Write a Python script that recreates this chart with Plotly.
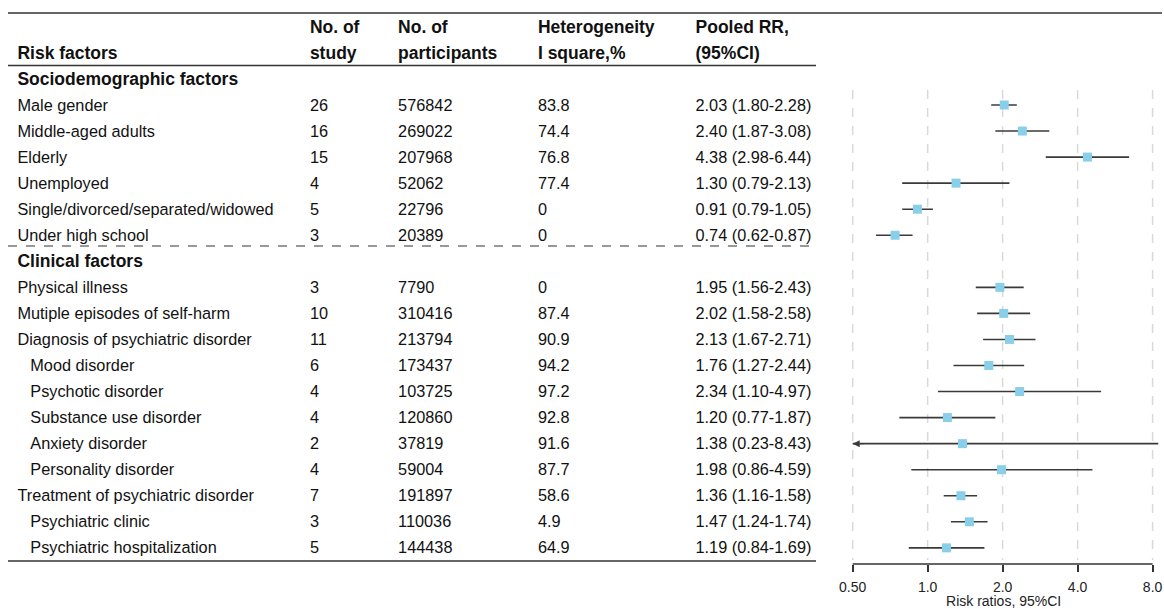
import numpy as np
import plotly.graph_objects as go

# ---------------- data ----------------
groups = ["Sociodemographic factors", "Clinical factors"]
group_of = [0, 0, 0, 0, 0, 0, 1, 1, 1, 1, 1, 1, 1, 1, 1, 1, 1]
factors = [
    "Male gender", "Middle-aged adults", "Elderly", "Unemployed",
    "Single/divorced/separated/widowed", "Under high school",
    "Physical illness", "Mutiple episodes of self-harm",
    "Diagnosis of psychiatric disorder", "Mood disorder", "Psychotic disorder",
    "Substance use disorder", "Anxiety disorder", "Personality disorder",
    "Treatment of psychiatric disorder", "Psychiatric clinic",
    "Psychiatric hospitalization",
]
indent = [0, 0, 0, 0, 0, 0, 0, 0, 0, 1, 1, 1, 1, 1, 0, 1, 1]
n_study = [26, 16, 15, 4, 5, 3, 3, 10, 11, 6, 4, 4, 2, 4, 7, 3, 5]
n_participants = [576842, 269022, 207968, 52062, 22796, 20389, 7790, 310416,
                  213794, 173437, 103725, 120860, 37819, 59004, 191897,
                  110036, 144438]
i_square = ["83.8", "74.4", "76.8", "77.4", "0", "0", "0", "87.4", "90.9",
            "94.2", "97.2", "92.8", "91.6", "87.7", "58.6", "4.9", "64.9"]
rr = [2.03, 2.40, 4.38, 1.30, 0.91, 0.74, 1.95, 2.02, 2.13, 1.76, 2.34, 1.20,
      1.38, 1.98, 1.36, 1.47, 1.19]
ci_low = [1.80, 1.87, 2.98, 0.79, 0.79, 0.62, 1.56, 1.58, 1.67, 1.27, 1.10,
          0.77, 0.23, 0.86, 1.16, 1.24, 0.84]
ci_high = [2.28, 3.08, 6.44, 2.13, 1.05, 0.87, 2.43, 2.58, 2.71, 2.44, 4.97,
           1.87, 8.43, 4.59, 1.58, 1.74, 1.69]
header_line1 = ["", "No. of", "No. of", "Heterogeneity", "Pooled RR,"]
header_line2 = ["Risk factors", "study", "participants", "I square,%", "(95%CI)"]
tick_vals = [0.5, 1, 2, 4, 8]
tick_text = ["0.50", "1.0", "2.0", "4.0", "8.0"]

# ---------------- layout constants ----------------
W, H = 1164, 609
FONT = "Liberation Sans, Arial, Helvetica, sans-serif"
BODY = 16.3
BOLD = 17.5
text_pad = 4.5                     # plotly's built-in offset for 'right' text
col_x = [14, 309, 398, 539, 698]   # table column left edges (px)
indent_px = 13
table_w = 838.0

# row positions
group_rows, item_rows = [], []
r, prev = 0, None
for g in group_of:
    if g != prev:
        group_rows.append(r)
        r += 1
        prev = g
    item_rows.append(r)
    r += 1

row0_px, row_step = 105.0, 26.05   # pixel of row 1, row spacing
plot_bottom_px = 564.0
text_dy = 1.5 / row_step            # small downward nudge for text baseline


def row_of(px):
    return 1 + (px - row0_px) / row_step


y_range = [row_of(plot_bottom_px), row_of(0)]

# forest axis geometry
px_lo, px_hi = 852.0, 1154.5
k = (px_hi - px_lo) / (np.log10(8) - np.log10(0.5))
x2_range = [np.log10(0.5) - 6 / k, np.log10(0.5) + (1162.5 - px_lo) / k]
x2_domain = [(px_lo - 6) / W, 1162.5 / W]

fig = go.Figure()

# ---------------- table text ----------------
txt = dict(mode="text", textposition="middle right", hoverinfo="skip",
           showlegend=False, xaxis="x", yaxis="y", cliponaxis=False,
           marker=dict(size=0))


def ys(rows):
    return [v + text_dy for v in rows]


def xs(px_list):
    return [p - text_pad for p in px_list]


# header (bold)
for line, yy in ((header_line1, -2), (header_line2, -1)):
    fig.add_trace(go.Scatter(
        x=xs(col_x), y=ys([yy] * len(col_x)),
        text=["<b>%s</b>" % t if t else "" for t in line],
        textfont=dict(family=FONT, size=BOLD, color="#111"), **txt))

# group titles
fig.add_trace(go.Scatter(
    x=xs([col_x[0]] * len(groups)), y=ys(group_rows),
    text=["<b>%s</b>" % g for g in groups],
    textfont=dict(family=FONT, size=BOLD, color="#111"), **txt))

# item labels
fig.add_trace(go.Scatter(
    x=xs([col_x[0] + indent_px * d for d in indent]), y=ys(item_rows),
    text=factors, textfont=dict(family=FONT, size=BODY, color="#111"), **txt))

pooled = ["%.2f (%.2f-%.2f)" % (a, b, c) for a, b, c in zip(rr, ci_low, ci_high)]
for cx, col in zip(col_x[1:], [[str(v) for v in n_study],
                               [str(v) for v in n_participants],
                               i_square, pooled]):
    fig.add_trace(go.Scatter(
        x=xs([cx] * len(col)), y=ys(item_rows), text=col,
        textfont=dict(family=FONT, size=BODY, color="#111"), **txt))

# ---------------- forest plot ----------------
xmin_shown = 0.5
seg_x, seg_y = [], []
for lo_, hi_, yy in zip(ci_low, ci_high, item_rows):
    seg_x += [max(lo_, xmin_shown), hi_, None]
    seg_y += [yy, yy, None]
fig.add_trace(go.Scatter(
    x=seg_x, y=seg_y, mode="lines", xaxis="x2", yaxis="y",
    line=dict(color="#3a3a3a", width=1.6), hoverinfo="skip", showlegend=False))
fig.add_trace(go.Scatter(
    x=rr, y=item_rows, mode="markers", xaxis="x2", yaxis="y",
    marker=dict(symbol="square", size=9, color="#89CFEA",
                line=dict(width=0)),
    showlegend=False, cliponaxis=False))

shapes = []
# dashed vertical reference lines (shape coords on log axes = data values)
for tv in tick_vals:
    shapes.append(dict(type="line", xref="x2", yref="y",
                       x0=tv, x1=tv, y0=row_of(90), y1=row_of(560),
                       line=dict(color="#d9d9d9", width=1.5, dash="dash"),
                       layer="below"))
# x axis line
shapes.append(dict(type="line", xref="x2", yref="paper",
                   x0=tick_vals[0], x1=tick_vals[-1],
                   y0=0, y1=0, line=dict(color="#333", width=1.5)))
# table rules
tbl_right = 815 / W
shapes.append(dict(type="line", xref="paper", yref="y", x0=0, x1=1,
                   y0=row_of(13), y1=row_of(13),
                   line=dict(color="#333", width=1.5)))
shapes.append(dict(type="line", xref="paper", yref="y", x0=0, x1=tbl_right,
                   y0=row_of(65.5), y1=row_of(65.5),
                   line=dict(color="#333", width=1.5)))
shapes.append(dict(type="line", xref="paper", yref="y", x0=0, x1=tbl_right,
                   y0=row_of(246), y1=row_of(246),
                   line=dict(color="#333", width=1.2, dash="dash")))
shapes.append(dict(type="line", xref="paper", yref="y", x0=0, x1=tbl_right,
                   y0=row_of(561), y1=row_of(561),
                   line=dict(color="#333", width=1.5)))

# arrow for truncated CI (annotation coords on log axes = log10 values)
annotations = []
for lo_, yy in zip(ci_low, item_rows):
    if lo_ < xmin_shown:
        annotations.append(dict(
            x=np.log10(xmin_shown), y=yy, xref="x2", yref="y",
            ax=np.log10(xmin_shown) + 0.05, ay=yy, axref="x2", ayref="y",
            text="", showarrow=True, arrowhead=2, arrowsize=1.0,
            arrowwidth=1.4, arrowcolor="#3a3a3a"))

fig.update_layout(
    width=W, height=H,
    margin=dict(l=0, r=0, t=0, b=45),
    paper_bgcolor="white", plot_bgcolor="white",
    font=dict(family=FONT, color="#111"),
    shapes=shapes, annotations=annotations,
    xaxis=dict(domain=[0, table_w / W], range=[0, table_w], visible=False,
               fixedrange=True),
    xaxis2=dict(type="log", domain=x2_domain, range=x2_range, anchor="y",
                tickvals=tick_vals, ticktext=tick_text, ticks="outside",
                ticklen=7, tickwidth=1.5, tickcolor="#333",
                ticklabelstandoff=3, ticklabeloverflow="allow",
                showgrid=False, zeroline=False, showline=False,
                tickfont=dict(family=FONT, size=14, color="#222"),
                title=dict(text="Risk ratios, 95%CI", standoff=1,
                           font=dict(family=FONT, size=14, color="#222"))),
    yaxis=dict(range=y_range, visible=False, fixedrange=True),
)

fig.write_html("out.html",
               config={"displayModeBar": False},
               post_script="document.body.style.margin='0px';"
                           "document.body.style.padding='0px';")
